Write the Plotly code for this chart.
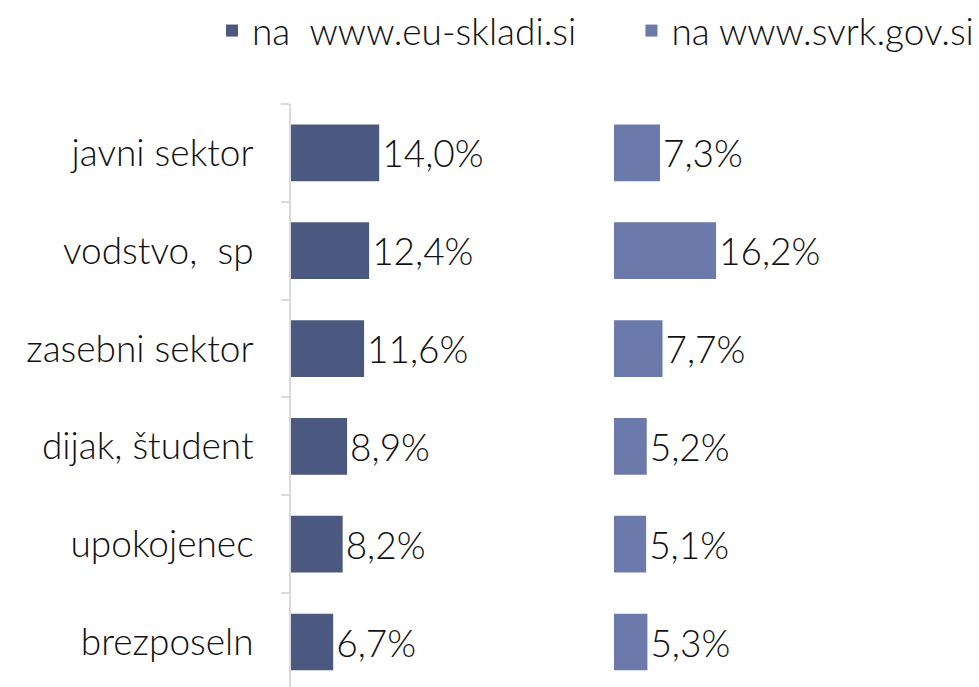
import plotly.graph_objects as go

categories = ["javni sektor", "vodstvo,  sp", "zasebni sektor", "dijak, študent", "upokojenec", "brezposeln"]
eu_skladi = [14.0, 12.4, 11.6, 8.9, 8.2, 6.7]
svrk = [7.3, 16.2, 7.7, 5.2, 5.1, 5.3]
series_names = ["na  www.eu-skladi.si", "na www.svrk.gov.si"]
colors = ["#4b5880", "#6b7aaa"]

def fmt(v):
    return f"{v:.1f}%".replace(".", ",")

FONT = "Lato"
FW = 300
FS = 37
W, H = 979, 687
ml, mt = 291, 103
plot_w = W - ml
pxper = 6.3
split = (614 - ml) / plot_w

fig = go.Figure()
fig.add_trace(go.Bar(
    y=categories, x=eu_skladi, orientation="h", name=series_names[0] + "\u00a0" * 5,
    marker=dict(color=colors[0], line=dict(width=0)),
    text=[fmt(v) for v in eu_skladi], textposition="outside",
    textfont=dict(size=FS, color="#111111", family=FONT, weight=FW),
    cliponaxis=False, constraintext="none", width=0.58,
    xaxis="x", yaxis="y",
))
fig.add_trace(go.Bar(
    y=categories, x=svrk, orientation="h", name=series_names[1],
    marker=dict(color=colors[1], line=dict(width=0)),
    text=[fmt(v) for v in svrk], textposition="outside",
    textfont=dict(size=FS, color="#111111", family=FONT, weight=FW),
    cliponaxis=False, constraintext="none", width=0.58,
    xaxis="x2", yaxis="y",
))

fig.update_layout(
    template="none",
    width=W, height=H, autosize=False,
    margin=dict(l=ml, r=0, t=mt, b=0, pad=0),
    paper_bgcolor="white", plot_bgcolor="white",
    font=dict(family=FONT, size=FS, color="#111111", weight=FW),
    showlegend=True,
    legend=dict(
        orientation="h",
        x=(212 - ml) / plot_w, xanchor="left", y=(H - 30) / (H - mt), yanchor="middle",
        font=dict(size=FS, family=FONT, color="#111111", weight=FW),
        bgcolor="rgba(0,0,0,0)", itemwidth=30, traceorder="normal",
    ),
    bargap=0.42,
    xaxis=dict(domain=[0, split - 0.01], range=[0, (split - 0.01) * plot_w / pxper],
               visible=False, anchor="y", automargin=False),
    xaxis2=dict(domain=[split, 1], range=[0, (1 - split) * plot_w / pxper],
                visible=False, anchor="y", automargin=False),
    yaxis=dict(
        type="category", categoryorder="array", categoryarray=categories,
        range=[5.46, -0.5], anchor="x", automargin=False,
        showline=True, linecolor="#d9d9d9", linewidth=2,
        ticks="outside", tickson="boundaries", ticklen=8, tickcolor="#d9d9d9", tickwidth=2,
        showgrid=False, zeroline=False,
        tickfont=dict(size=FS, family=FONT, color="#111111", weight=FW),
        ticklabelstandoff=28,
    ),
)

fig.write_html("out.html", config={"displayModeBar": False},
               post_script="document.body.style.margin='0';document.body.style.overflow='hidden';")
